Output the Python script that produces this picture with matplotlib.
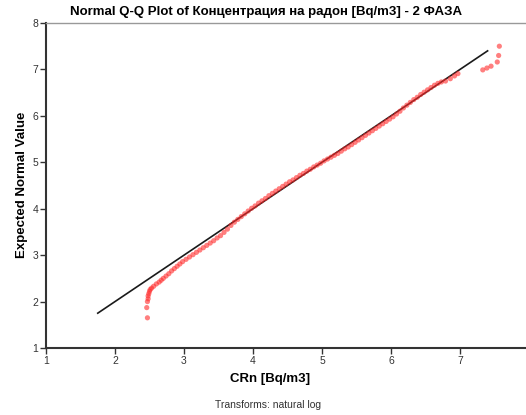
import matplotlib
matplotlib.use("Agg")
import matplotlib.pyplot as plt

plt.rcParams['font.family'] = ['Liberation Sans', 'DejaVu Sans']

title = "Normal Q-Q Plot of Концентрация на радон [Bq/m3] - 2 ФАЗА"
xlabel = "CRn [Bq/m3]"
ylabel = "Expected Normal Value"
footnote = "Transforms: natural log"
ticks = [1, 2, 3, 4, 5, 6, 7, 8]

observed = [2.47, 2.46, 2.47, 2.48, 2.48, 2.49, 2.50, 2.51, 2.53, 2.56, 2.60, 2.64, 2.67, 2.70,
            2.74, 2.78, 2.82, 2.86, 2.90, 2.94, 2.98, 3.03, 3.08, 3.13, 3.18, 3.23, 3.28, 3.33,
            3.38, 3.43, 3.48, 3.53, 3.58, 3.63, 3.68, 3.73, 3.78, 3.83, 3.88, 3.93, 3.98, 4.03,
            4.08, 4.13, 4.18, 4.23, 4.28, 4.33, 4.38, 4.43, 4.48, 4.53, 4.58, 4.63, 4.68, 4.73,
            4.78, 4.83, 4.88, 4.93, 4.98, 5.03, 5.08, 5.13, 5.18, 5.23, 5.28, 5.33, 5.38, 5.43,
            5.48, 5.53, 5.58, 5.63, 5.68, 5.73, 5.78, 5.83, 5.88, 5.93, 5.98, 6.03, 6.08, 6.13,
            6.18, 6.23, 6.28, 6.33, 6.38, 6.43, 6.48, 6.53, 6.58, 6.63, 6.68, 6.73, 6.79, 6.86,
            6.92, 6.97, 7.33, 7.39, 7.45, 7.54, 7.56, 7.57]
expected = [1.65, 1.87, 2.00, 2.06, 2.12, 2.17, 2.22, 2.26, 2.29, 2.33, 2.38, 2.42, 2.46, 2.50,
            2.55, 2.60, 2.66, 2.71, 2.76, 2.81, 2.86, 2.91, 2.96, 3.01, 3.06, 3.11, 3.16, 3.21,
            3.26, 3.31, 3.37, 3.42, 3.49, 3.56, 3.64, 3.71, 3.77, 3.83, 3.89, 3.95, 4.01, 4.06,
            4.12, 4.17, 4.22, 4.28, 4.33, 4.38, 4.43, 4.48, 4.53, 4.58, 4.62, 4.67, 4.72, 4.76,
            4.81, 4.85, 4.90, 4.94, 4.98, 5.03, 5.07, 5.11, 5.15, 5.19, 5.24, 5.29, 5.33, 5.38,
            5.43, 5.48, 5.53, 5.58, 5.63, 5.68, 5.73, 5.78, 5.83, 5.88, 5.93, 5.98, 6.04, 6.10,
            6.17, 6.23, 6.29, 6.35, 6.40, 6.46, 6.51, 6.56, 6.61, 6.66, 6.70, 6.73, 6.75, 6.80,
            6.86, 6.91, 6.99, 7.03, 7.07, 7.16, 7.30, 7.50]
ref_line = [1.75, 7.40]

fig = plt.figure(figsize=(5.26, 4.15), dpi=100)
W, H = 526, 415
x0, x1 = 46, 529
y_top, y_bot = 23, 348
ax = fig.add_axes([x0 / W, 1 - y_bot / H, (x1 - x0) / W, (y_bot - y_top) / H])

ax.plot(ref_line, ref_line, color='#1a1a1a', lw=1.2, zorder=2)
ax.scatter(observed, expected, s=14, color='#ff2a2a', alpha=0.6, edgecolors='none', zorder=3)

ax.set_xlim(1, 8)
ax.set_ylim(1, 8)
ax.set_xticks(ticks)
ax.set_yticks(ticks)
ax.tick_params(axis='both', direction='out', length=4, width=1, colors='#333333',
               labelsize=7.5, labelcolor='#333333', pad=1.5)
for s in ['left', 'bottom']:
    ax.spines[s].set_color('#333333')
    ax.spines[s].set_linewidth(1.5)
for s in ['top', 'right']:
    ax.spines[s].set_color('#999999')
    ax.spines[s].set_linewidth(1.0)

fig.text(266 / W, 1 - 12 / H, title, ha='center', va='center', fontsize=9.5, fontweight='bold')
fig.text(270 / W, 1 - 379 / H, xlabel, ha='center', va='center', fontsize=9.5, fontweight='bold')
fig.text(22 / W, 1 - 185 / H, ylabel, ha='center', va='center', rotation=90, fontsize=9.5,
         fontweight='bold')
fig.text(268 / W, 1 - 405 / H, footnote, ha='center', va='center', fontsize=7.5, color='#333333')

fig.savefig('out.png', dpi=100)
